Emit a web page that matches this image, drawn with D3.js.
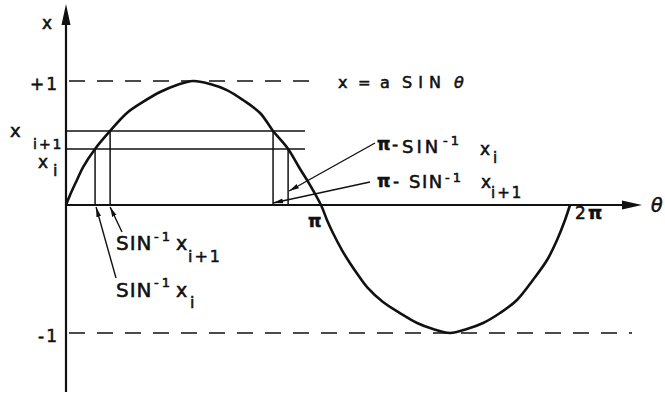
<!DOCTYPE html>
<html><head><meta charset="utf-8">
<script src="https://cdn.jsdelivr.net/npm/d3@7"></script>
<style>
html,body{margin:0;padding:0;background:#fff;}
svg{display:block;}
text{font-family:"DejaVu Sans",sans-serif;fill:#111;stroke:#111;stroke-width:0.55px;}
</style></head><body>
<svg id="chart" width="665" height="394"></svg>
<script>
// Curve x = a SIN θ, sampled: θ in units of π, x in units of a
const curveTheta = [0, 0.016, 0.043, 0.067, 0.114, 0.173, 0.239, 0.302, 0.369, 0.435, 0.498,
                    0.565, 0.631, 0.694, 0.761, 0.812, 0.871, 0.918, 0.957, 1.0,
                    1.024, 1.048, 1.084, 1.116, 1.149, 1.185, 1.249, 1.317, 1.386, 1.450, 1.518,
                    1.586, 1.651, 1.719, 1.787, 1.851, 1.908, 1.948, 1.980, 2.0];
const curveX = [0, 0.081, 0.202, 0.306, 0.452, 0.597, 0.742, 0.831, 0.911, 0.968, 1.0,
                0.976, 0.927, 0.847, 0.742, 0.597, 0.452, 0.290, 0.161, 0,
                -0.117, -0.219, -0.352, -0.453, -0.547, -0.641, -0.758, -0.844, -0.922, -0.969, -1.0,
                -0.969, -0.922, -0.844, -0.742, -0.586, -0.430, -0.273, -0.117, 0];

// The two levels x_i and x_(i+1) and where they meet the curve
const levelValues = [0.452, 0.597];
const levelSubs = ["i", "i+1"];
const arcsinTheta = [0.114, 0.173];   // SIN^-1 x_i, SIN^-1 x_(i+1)
const mirrorTheta = [0.871, 0.812];   // π - SIN^-1 x_i, π - SIN^-1 x_(i+1)

// Bounds and θ tick labels
const boundValues = [1, -1];
const boundLabels = ["+1", "-1"];
const thetaTicks = [1, 2];
const thetaTickLabels = ["π", "2π"];

const svg = d3.select("#chart");
const ink = "#111";

const xs = d3.scaleLinear().domain([0, 1, 2]).range([66, 321, 570]);
const ys = d3.scaleLinear().domain([-1, 0, 1]).range([333, 205, 81]);

// arrow marker for leader lines
svg.append("defs").append("marker")
  .attr("id", "lead").attr("markerUnits", "userSpaceOnUse")
  .attr("markerWidth", 11).attr("markerHeight", 6)
  .attr("refX", 10).attr("refY", 3).attr("orient", "auto")
  .append("path").attr("d", "M0,0.6 L10,3 L0,5.4 Z").attr("fill", ink);

// dashed bounds
const boundEnds = [320, 632];
svg.selectAll(".bound").data(boundValues).join("line")
  .attr("x1", xs(0) + 3).attr("x2", (d, i) => boundEnds[i])
  .attr("y1", d => ys(d)).attr("y2", d => ys(d))
  .attr("stroke", ink).attr("stroke-width", 1.6).attr("stroke-dasharray", "16 12");

// level lines x_i, x_(i+1)
svg.selectAll(".level").data(levelValues).join("line")
  .attr("x1", xs(0)).attr("x2", 305)
  .attr("y1", d => ys(d)).attr("y2", d => ys(d))
  .attr("stroke", ink).attr("stroke-width", 1.5);

// drop lines from the curve intersections to the θ axis
const drops = arcsinTheta.map((t, i) => ({t, v: levelValues[i]}))
  .concat(mirrorTheta.map((t, i) => ({t, v: levelValues[i]})));
svg.selectAll(".drop").data(drops).join("line")
  .attr("x1", d => xs(d.t)).attr("x2", d => xs(d.t))
  .attr("y1", d => ys(d.v)).attr("y2", ys(0))
  .attr("stroke", ink).attr("stroke-width", 1.5);

// axes
svg.append("line").attr("x1", xs(0)).attr("x2", 630).attr("y1", ys(0)).attr("y2", ys(0))
  .attr("stroke", ink).attr("stroke-width", 2.2);
svg.append("path").attr("d", `M642,${ys(0)} L622,${ys(0) - 4.5} L622,${ys(0) + 4.5} Z`).attr("fill", ink);
svg.append("line").attr("x1", xs(0)).attr("x2", xs(0)).attr("y1", 392).attr("y2", 15)
  .attr("stroke", ink).attr("stroke-width", 2.2);
svg.append("path").attr("d", `M${xs(0)},4 L${xs(0) - 4.5},25 L${xs(0) + 4.5},25 Z`).attr("fill", ink);

// the sine curve
const line = d3.line().x(d => xs(d[0])).y(d => ys(d[1])).curve(d3.curveCatmullRom.alpha(0.5));
svg.append("path").datum(d3.zip(curveTheta, curveX)).attr("d", line)
  .attr("fill", "none").attr("stroke", ink).attr("stroke-width", 2.6);

// leader lines
const leaders = [
  {x1: 122, y1: 232, x2: xs(arcsinTheta[1]), y2: ys(0) + 2},
  {x1: 116, y1: 278, x2: xs(arcsinTheta[0]) + 1, y2: ys(0) + 2},
  {x1: 375, y1: 143, x2: xs(mirrorTheta[0]) + 1, y2: ys(0) - 14},
  {x1: 370, y1: 182, x2: xs(mirrorTheta[1]), y2: ys(0) - 2}
];
svg.selectAll(".leader").data(leaders).join("line")
  .attr("x1", d => d.x1).attr("y1", d => d.y1).attr("x2", d => d.x2).attr("y2", d => d.y2)
  .attr("stroke", ink).attr("stroke-width", 1.4).attr("marker-end", "url(#lead)");

// text helper: one text element built from positioned pieces
function label(pieces) {
  const t = svg.append("text");
  pieces.forEach(p => {
    const s = t.append("tspan").attr("x", p.x).attr("y", p.y).attr("font-size", p.s).text(p.t);
    if (p.ls) s.attr("letter-spacing", p.ls);
    if (p.it) s.attr("font-style", "italic");
    if (p.b) s.attr("font-weight", "bold");
  });
  return t;
}

// axis names
label([{t: "x", x: 42, y: 29, s: 17}]);
label([{t: "θ", x: 651, y: 212, s: 19, it: true}]);

// bound labels
svg.selectAll(".blab").data(boundValues).join("text")
  .attr("x", 59).attr("y", d => ys(d) + 9).attr("text-anchor", "end")
  .attr("font-size", 17).attr("letter-spacing", 2)
  .text((d, i) => boundLabels[i]);

// θ tick labels
label([{t: thetaTickLabels[0], x: xs(thetaTicks[0]) - 13, y: ys(0) + 22, s: 17, b: true}]);
label([{t: "2", x: xs(thetaTicks[1]) + 5, y: ys(0) + 14, s: 17},
       {t: "π", x: xs(thetaTicks[1]) + 18, y: ys(0) + 14, s: 18, b: true}]);

// level labels x_(i+1) and x_i
label([{t: "x", x: 10, y: ys(levelValues[1]) + 6, s: 18},
       {t: levelSubs[1], x: 33, y: ys(levelValues[1]) + 18, s: 14, ls: 2}]);
label([{t: "x", x: 38, y: ys(levelValues[0]) + 19, s: 17},
       {t: levelSubs[0], x: 53, y: ys(levelValues[0]) + 27, s: 16}]);

// curve caption
label([{t: "x", x: 338, y: 88, s: 16},
       {t: "=", x: 358, y: 88, s: 15},
       {t: "a", x: 380, y: 88, s: 16},
       {t: "SIN", x: 402, y: 88, s: 16, ls: 6},
       {t: "θ", x: 454, y: 88, s: 16, it: true}]);

// SIN^-1 labels under the axis
label([{t: "SIN", x: 116, y: 250, s: 20, ls: 1},
       {t: "-1", x: 154, y: 241, s: 13, ls: 3},
       {t: "x", x: 176, y: 250, s: 19},
       {t: levelSubs[1], x: 188, y: 262, s: 16, ls: 2}]);
label([{t: "SIN", x: 116, y: 297, s: 20, ls: 1},
       {t: "-1", x: 154, y: 287, s: 13, ls: 3},
       {t: "x", x: 176, y: 297, s: 19},
       {t: levelSubs[0], x: 190, y: 308, s: 16}]);

// π - SIN^-1 labels
label([{t: "π", x: 377, y: 150, s: 17, b: true},
       {t: "-", x: 392, y: 150, s: 17},
       {t: "SIN", x: 402, y: 153, s: 18, ls: 3},
       {t: "-1", x: 443, y: 145, s: 13, ls: 3},
       {t: "x", x: 480, y: 155, s: 17},
       {t: levelSubs[0], x: 493, y: 163, s: 15}]);
label([{t: "π", x: 377, y: 187, s: 17, b: true},
       {t: "-", x: 393, y: 187, s: 17},
       {t: "SIN", x: 409, y: 188, s: 18, ls: 1.5},
       {t: "-1", x: 445, y: 182, s: 13, ls: 3},
       {t: "x", x: 481, y: 188, s: 17},
       {t: levelSubs[1], x: 491, y: 198, s: 15, ls: 2}]);
</script>
</body></html>
